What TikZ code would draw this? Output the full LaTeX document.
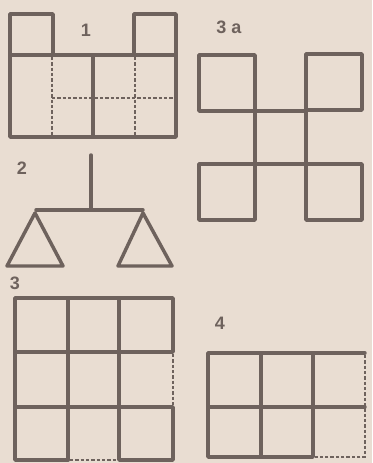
\documentclass[tikz,border=0pt]{standalone}
\usepackage{fontspec}
\setmainfont{Liberation Sans}
\definecolor{paper}{HTML}{E9DDD2}
\definecolor{ink}{HTML}{6E625D}
\tikzset{
  stick/.style={draw=ink, line width=2.6pt, line join=round, line cap=round},
  hint/.style={draw=ink, line width=1.3pt, dash pattern=on 2.4pt off 1.6pt},
  figlabel/.style={text=ink, font=\fontsize{13.5}{16}\selectfont\bfseries, inner sep=0pt}
}
\begin{document}
\begin{tikzpicture}[x=0.75pt, y=-0.75pt]
\fill[paper] (0,0) rectangle (372,463);
% figure 1
\node[figlabel] (lblone) at (86,30) {1};
\draw[stick] (10,55) rectangle (176,137);
\draw[stick] (10,55) -- (10,14) -- (53,14) -- (53,55);
\draw[stick] (134,55) -- (134,14) -- (176,14) -- (176,55);
\draw[stick] (93,55) -- (93,137);
\draw[hint] (52,57) -- (52,135);
\draw[hint] (135,57) -- (135,135);
\draw[hint] (52,98) -- (174,98);
% figure 2
\node[figlabel] (lbltwo) at (22,168) {2};
\draw[stick] (91,155) -- (91,210);
\draw[stick] (36,210) -- (143,210);
\draw[stick] (35,213) -- (7,266) -- (63,266) -- cycle;
\draw[stick] (143,213) -- (118,266) -- (172,266) -- cycle;
% figure 3a
\node[figlabel] (lblthreea) at (229,27) {3 a};
\foreach \cx/\cy in {199/55, 306/54, 199/164, 306/164}
  \draw[stick] (\cx,\cy) rectangle ++(56,56);
\draw[stick] (255,111) rectangle (306,164);
% figure 3
\node[figlabel] (lblthree) at (15,283) {3};
\draw[stick] (15,298) rectangle (173,352);
\draw[stick] (15,352) -- (15,460) -- (68,460);
\draw[stick] (68,298) -- (68,460);
\draw[stick] (119,298) -- (119,460) -- (173,460) -- (173,407) -- (15,407);
\draw[hint] (173,354) -- (173,405);
\draw[hint] (70,460) -- (117,460);
% figure 4
\node[figlabel] (lblfour) at (220,323) {4};
\draw[stick] (365,353) -- (208,353) -- (208,457) -- (313,457) -- (313,353);
\draw[stick] (261,353) -- (261,457);
\draw[stick] (208,407) -- (365,407);
\draw[hint] (365,355) -- (365,457) -- (315,457);
\end{tikzpicture}
\end{document}
